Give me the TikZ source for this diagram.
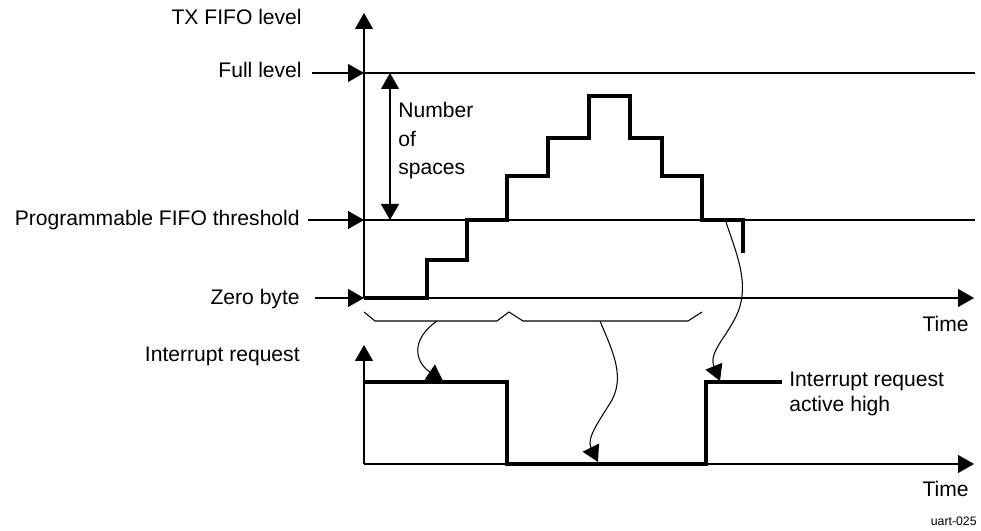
\documentclass[tikz,border=0pt]{standalone}
\usepackage{fontspec}
\setmainfont{Liberation Sans}
\usetikzlibrary{arrows.meta, positioning}

\begin{document}
\begin{tikzpicture}[x=0.2mm, y=-0.2mm,
  lbl/.style={font=\fontsize{12}{14}\selectfont, inner sep=0pt},
  thinline/.style={line width=0.6pt},
  signal/.style={line width=2.3pt, line join=miter},
  tip/.style={-{Triangle[length=3.2mm, width=3.6mm]}},
  twotip/.style={{Triangle[length=3.2mm, width=3.6mm]}-{Triangle[length=3.2mm, width=3.6mm]}}]
\useasboundingbox (0,0) rectangle (981,531);
% Axis points
\coordinate (o1) at (364,298);
\coordinate (o2) at (364,464);
\coordinate (fullpt) at (364,73);
\coordinate (threshpt) at (364,220);
% Left labels
\node[lbl, anchor=mid east] (txlevel) at (302,20) {TX FIFO level};
\node[lbl, anchor=mid east] (full) at (302,73) {Full level};
\node[lbl, anchor=mid east] (thresh) at (300,221) {Programmable FIFO threshold};
\node[lbl, anchor=mid east] (zero) at (300,300) {Zero byte};
\node[lbl, anchor=mid east] (irq) at (300,357) {Interrupt request};
% Label pointers
\draw[thinline, tip, shorten <=2mm] (full.mid east |- fullpt) -- (fullpt);
\draw[thinline, tip, shorten <=1.6mm] (thresh.mid east |- threshpt) -- (threshpt);
\draw[thinline, tip, shorten <=3mm] (zero.mid east |- o1) -- (o1);
% FIFO level axes
\draw[thinline, tip] (o1) -- (364,13);
\draw[thinline, tip] (o1) -- (974,298);
\node[lbl, anchor=mid east] (time1) at (969,327) {Time};
\draw[thinline] (fullpt) -- (975,73);
\draw[thinline] (threshpt) -- (975,220);
% Number of spaces
\draw[thinline, twotip] (390,73) -- (390,220);
\node[lbl, anchor=north west, align=left, font=\fontsize{12}{16.2}\selectfont] (spaces) at (398,102) {Number\\of\\spaces};
% FIFO level staircase
\draw[signal] (o1) -- (427,298) -- (427,260) -- (467,260) -- (467,220)
  -- (507,220) -- (507,176) -- (548,176) -- (548,138) -- (589,138) -- (589,96)
  -- (630,96) -- (630,138) -- (662,138) -- (662,176) -- (702,176) -- (702,220)
  -- (743,220) -- (743,253);
% Braces
\draw[thinline] (364,312) -- (375,321) -- (497,321) -- (509,312) -- (523,321) -- (688,321) -- (702,312);
\coordinate (brace1) at (437,321);
\coordinate (brace2) at (600,321);
\coordinate (drop) at (726,222);
% Interrupt request axes
\draw[thinline, tip] (o2) -- (364,345);
\draw[thinline, tip] (o2) -- (974,464);
\node[lbl, anchor=mid east] (time2) at (969,492) {Time};
% Interrupt request signal
\draw[signal] (364,382) -- (507,382) -- (507,464) -- (706,464) -- (706,382) -- (782,382);
\node[lbl, anchor=north west, align=left, font=\fontsize{12}{14.2}\selectfont] (irqhigh) at (789,372) {Interrupt request\\active high};
\coordinate (irqon) at (443,381);
\coordinate (irqoff) at (598,462);
\coordinate (irqback) at (720,381);
% Cause arrows
\draw[thinline, tip] (brace1) .. controls (410,340) and (415,362) .. (irqon);
\draw[thinline, tip] (brace2) .. controls (612,350) and (625,375) .. (612,400)
  .. controls (600,420) and (586,438) .. (irqoff);
\draw[thinline, tip] (drop) .. controls (735,250) and (750,282) .. (738,312)
  .. controls (728,336) and (708,352) .. (irqback);
\node[font=\fontsize{7}{8}\selectfont, inner sep=0pt, anchor=mid east] (figid) at (977,521) {uart-025};
\end{tikzpicture}
\end{document}
